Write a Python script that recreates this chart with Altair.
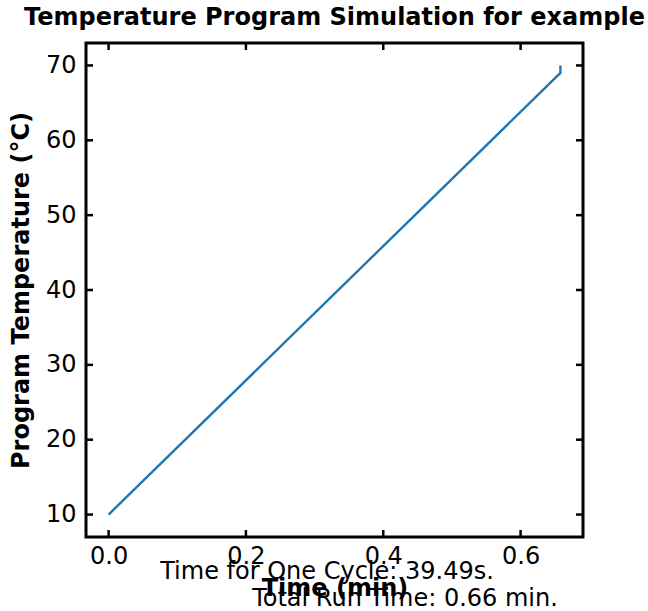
import altair as alt
import pandas as pd

# data
time_min = [0.0, 0.658, 0.658]
temp_c = [10.0, 69.0, 70.0]
x_ticks = [0.0, 0.2, 0.4, 0.6]
y_ticks = [10, 20, 30, 40, 50, 60, 70]
notes = ["Time for One Cycle: 39.49s.", "Total Run Time: 0.66 min."]

W, H = 497, 494
FONT = "DejaVu Sans"
FS = 24

df = pd.DataFrame({"t": time_min, "T": temp_c, "i": list(range(len(time_min)))})
xs = alt.Scale(domain=[-0.0329, 0.6909], nice=False, zero=False)
ys = alt.Scale(domain=[7, 73], nice=False, zero=False)

line = alt.Chart(df).mark_line(color="#1f77b4", strokeWidth=2.4).encode(
    x=alt.X("t:Q", scale=xs, title="Time (min)",
            axis=alt.Axis(values=x_ticks, format=".1f", ticks=False, domain=False, grid=False,
                          labelFontSize=FS, labelFont=FONT, labelColor="black", labelPadding=7,
                          titleFontSize=FS, titleFont=FONT, titleFontWeight="bold", titleColor="black",
                          titlePadding=8, labelFlush=False)),
    y=alt.Y("T:Q", scale=ys, title="Program Temperature (°C)",
            axis=alt.Axis(values=y_ticks, ticks=False, domain=False, grid=False,
                          labelFontSize=FS, labelFont=FONT, labelColor="black", labelPadding=10,
                          titleFontSize=FS, titleFont=FONT, titleFontWeight="bold", titleColor="black",
                          titlePadding=12, labelFlush=False)),
    order="i:Q",
)

xt = pd.DataFrame({"v": x_ticks})
yt = pd.DataFrame({"v": y_ticks})
tick_style = dict(color="black", strokeWidth=2.5)
xb = alt.Chart(xt).mark_rule(**tick_style).encode(x=alt.X("v:Q", scale=xs), y=alt.value(H - 7), y2=alt.value(H))
xtp = alt.Chart(xt).mark_rule(**tick_style).encode(x=alt.X("v:Q", scale=xs), y=alt.value(0), y2=alt.value(7))
yl = alt.Chart(yt).mark_rule(**tick_style).encode(y=alt.Y("v:Q", scale=ys), x=alt.value(0), x2=alt.value(7))
yr = alt.Chart(yt).mark_rule(**tick_style).encode(y=alt.Y("v:Q", scale=ys), x=alt.value(W - 7), x2=alt.value(W))

nd = pd.DataFrame({"label": notes})
n1 = alt.Chart(nd.iloc[[0]]).mark_text(font=FONT, fontSize=FS, color="black", align="center", baseline="middle").encode(
    text="label:N", x=alt.value(241), y=alt.value(529))
n2 = alt.Chart(nd.iloc[[1]]).mark_text(font=FONT, fontSize=FS, color="black", align="center", baseline="middle").encode(
    text="label:N", x=alt.value(319), y=alt.value(556))

chart = alt.layer(line, xb, xtp, yl, yr, n1, n2).properties(
    width=W, height=H,
    title=alt.TitleParams("Temperature Program Simulation for example", font=FONT, fontSize=FS,
                          fontWeight="bold", color="black", anchor="middle", offset=12),
    autosize=alt.AutoSizeParams(type="none"),
    padding={"left": 86, "top": 43, "right": 65, "bottom": 74},
    view=alt.ViewBackground(stroke="black", strokeWidth=3, fill="white"),
).configure(background="white")

chart.save("out.html", embed_options={"renderer": "svg", "actions": False})
